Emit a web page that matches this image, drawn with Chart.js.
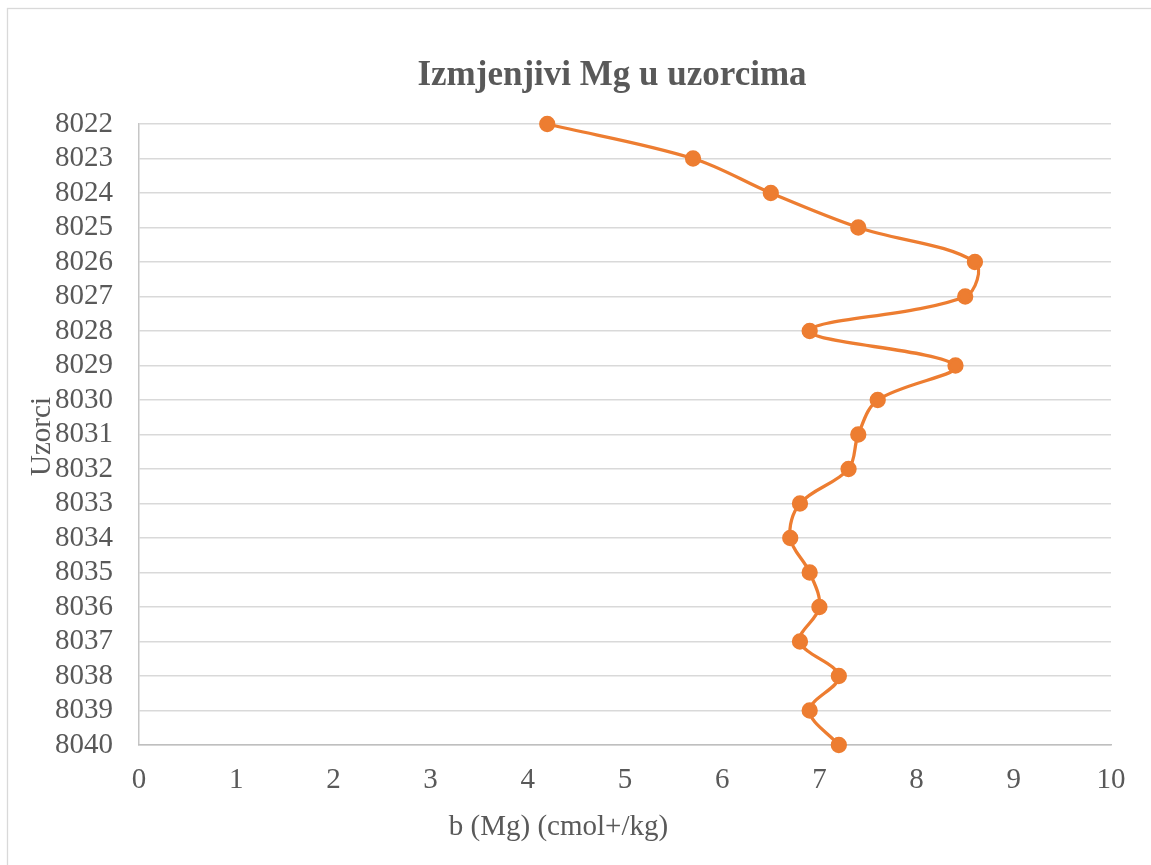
<!DOCTYPE html>
<html>
<head>
<meta charset="utf-8">
<script src="https://cdn.jsdelivr.net/npm/chart.js@4.4.1/dist/chart.umd.min.js"></script>
<style>
  html, body { margin: 0; padding: 0; background: #ffffff; overflow: hidden; }
  #wrap { position: relative; width: 1151px; height: 865px; }
</style>
</head>
<body>
<div id="wrap"><canvas id="c" width="1151" height="865"></canvas></div>
<script>
// Sample IDs (top to bottom) and exchangeable Mg, cmol+/kg
const uzorci = ['8022','8023','8024','8025','8026','8027','8028','8029','8030','8031',
                '8032','8033','8034','8035','8036','8037','8038','8039','8040'];
const mgVrijednosti = [4.2, 5.7, 6.5, 7.4, 8.6, 8.5, 6.9, 8.4, 7.6, 7.4,
                       7.3, 6.8, 6.7, 6.9, 7.0, 6.8, 7.2, 6.9, 7.2];
const xTicks = [0, 1, 2, 3, 4, 5, 6, 7, 8, 9, 10];

const naslov = 'Izmjenjivi Mg u uzorcima';
const xNaslov = 'b (Mg) (cmol+/kg)';
const yNaslov = 'Uzorci';

const FONT = '"Liberation Serif", "Times New Roman", serif';
const TEXT = '#595959';
const ORANGE = '#ED7D31';

// Frame, chart title and axis titles
const textPlugin = {
  id: 'texts',
  beforeDraw(chart) {
    const ctx = chart.ctx;
    ctx.save();
    ctx.strokeStyle = '#d9d9d9';
    ctx.lineWidth = 1.3;
    ctx.strokeRect(7.5, 8.5, 1300, 1000);
    ctx.restore();
  },
  afterDraw(chart) {
    const ctx = chart.ctx;
    const area = chart.chartArea;
    ctx.save();
    ctx.fillStyle = TEXT;
    ctx.textAlign = 'center';
    ctx.textBaseline = 'alphabetic';
    ctx.font = 'bold 35px ' + FONT;
    ctx.fillText(naslov, 612, 85);

    ctx.font = '29px ' + FONT;
    ctx.fillText(xNaslov, 558.5, 835);

    ctx.translate(50, (area.top + area.bottom) / 2 + 2);
    ctx.rotate(-Math.PI / 2);
    ctx.fillText(yNaslov, 0, 0);
    ctx.restore();
  }
};

new Chart(document.getElementById('c'), {
  type: 'line',
  data: {
    labels: uzorci,
    datasets: [{
      data: mgVrijednosti,
      borderColor: ORANGE,
      backgroundColor: ORANGE,
      pointBackgroundColor: ORANGE,
      pointBorderColor: ORANGE,
      borderWidth: 3.3,
      pointRadius: 6.5,
      pointHoverRadius: 6.5,
      tension: 0.35,
      fill: false
    }]
  },
  options: {
    indexAxis: 'y',
    responsive: false,
    animation: false,
    events: [],
    layout: { padding: { left: 0, top: 124, right: 40, bottom: 0 } },
    plugins: {
      legend: { display: false },
      title: { display: false },
      tooltip: { enabled: false }
    },
    scales: {
      y: {
        type: 'category',
        offset: false,
        grid: { color: '#d9d9d9', lineWidth: 1.5, drawTicks: false },
        border: { display: true, color: '#c6c6c6', width: 1.5 },
        ticks: {
          color: TEXT,
          font: { family: FONT, size: 29 },
          padding: 26,
          autoSkip: false
        },
        afterFit(scale) { scale.width = 139; }
      },
      x: {
        type: 'linear',
        min: 0,
        max: 10,
        afterBuildTicks(scale) { scale.ticks = xTicks.map(v => ({ value: v })); },
        grid: { display: false, drawTicks: false },
        border: { display: true, color: '#bfbfbf', width: 1.5 },
        ticks: {
          color: TEXT,
          font: { family: FONT, size: 29 },
          padding: 18,
          maxRotation: 0
        },
        afterFit(scale) { scale.height = 120; }
      }
    }
  },
  plugins: [textPlugin]
});
</script>
</body>
</html>
